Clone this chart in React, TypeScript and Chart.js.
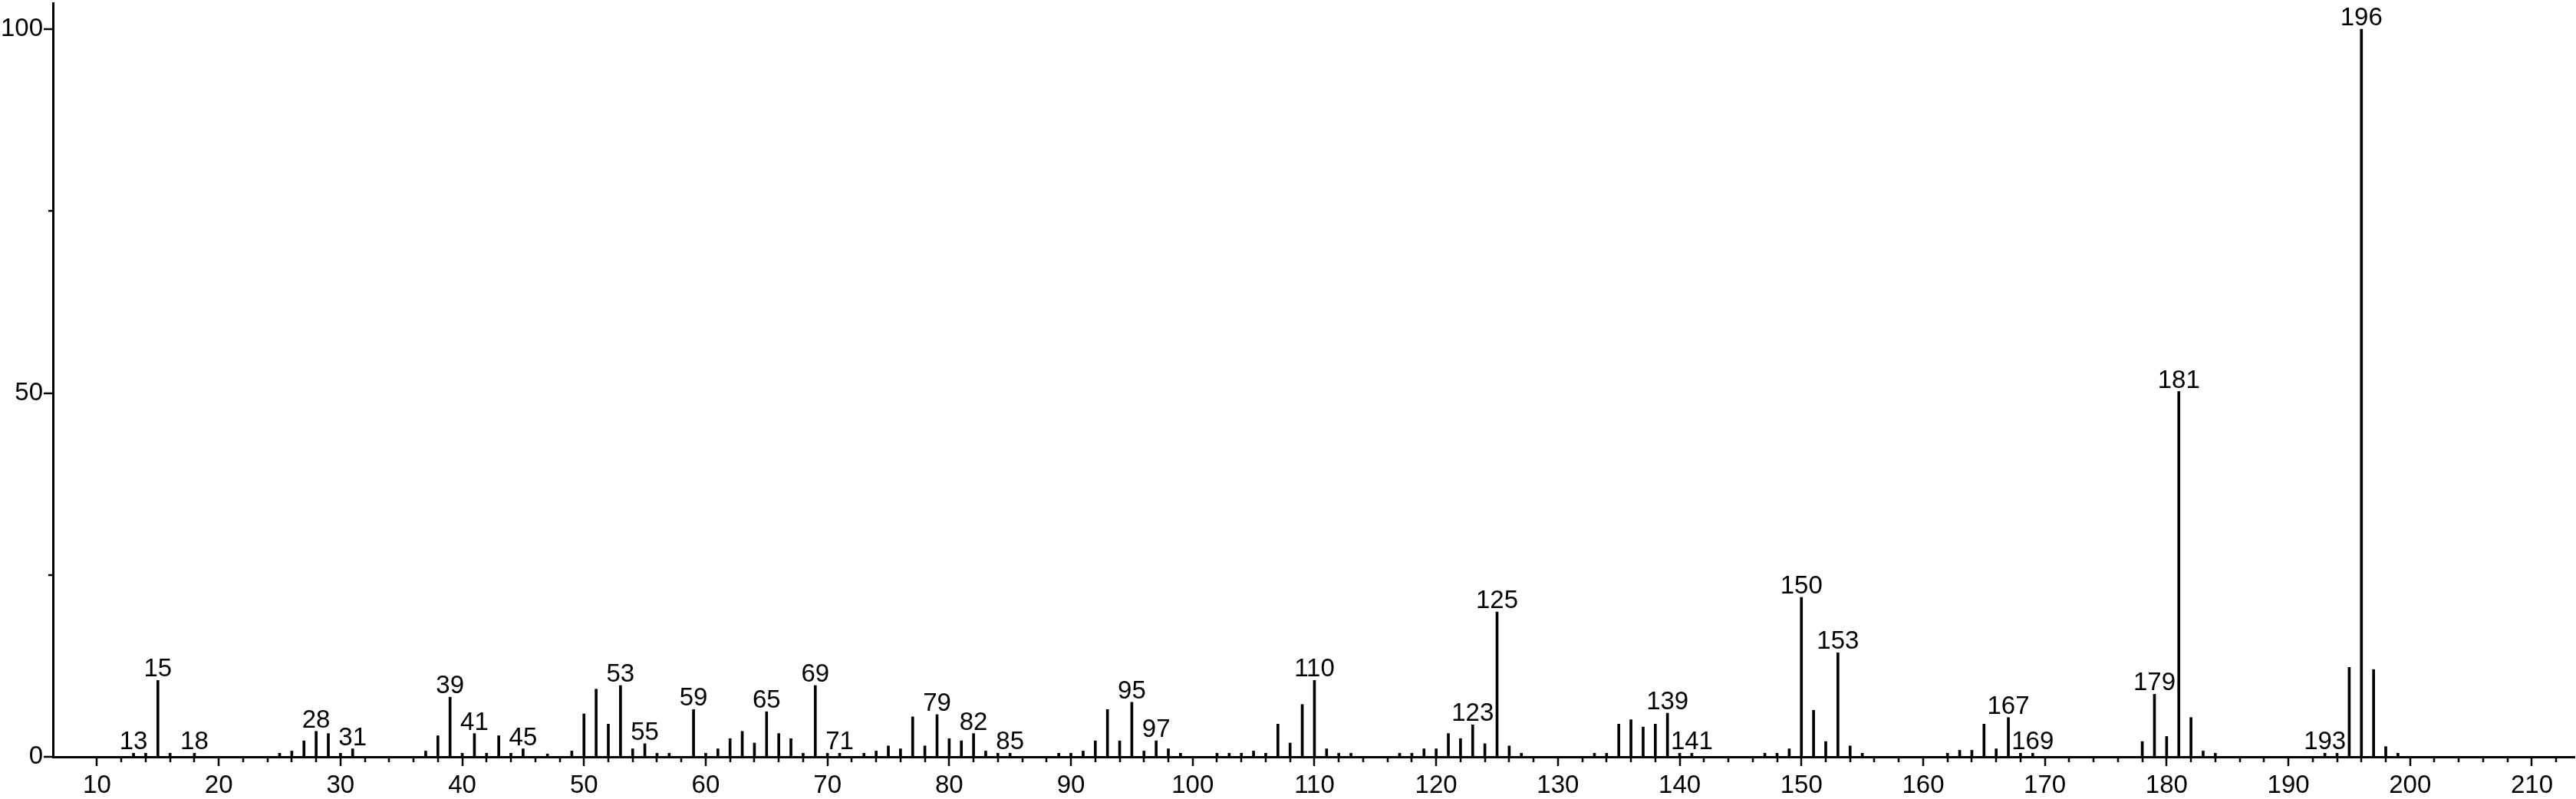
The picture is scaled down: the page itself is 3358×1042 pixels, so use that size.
import React, { useEffect, useRef } from "react";
import { Chart, registerables } from "chart.js";

Chart.register(...registerables);

// m/z values of the peaks
const MZ = [
  13, 14, 15, 16, 18, 25, 26, 27, 28, 29, 30, 31, 37, 38, 39, 40, 41, 42, 43, 44, 45, 47, 49,
  50, 51, 52, 53, 54, 55, 56, 57, 59, 60, 61, 62, 63, 64, 65, 66, 67, 68, 69, 70, 71, 73, 74,
  75, 76, 77, 78, 79, 80, 81, 82, 83, 84, 85, 89, 90, 91, 92, 93, 94, 95, 96, 97, 98, 99, 102,
  103, 104, 105, 106, 107, 108, 109, 110, 111, 112, 113, 117, 118, 119, 120, 121, 122, 123, 124,
  125, 126, 127, 133, 134, 135, 136, 137, 138, 139, 140, 141, 147, 148, 149, 150, 151, 152, 153,
  154, 155, 162, 163, 164, 165, 166, 167, 168, 169, 178, 179, 180, 181, 182, 183, 184, 193, 194,
  195, 196, 197, 198, 199,
];

// relative intensities (%)
const INTENSITY = [
  0.5, 0.5, 10.5, 0.5, 0.5, 0.5, 0.8, 2.2, 3.5, 3.2, 0.5, 1.1, 0.8, 2.9, 8.2, 0.5, 3.2, 0.5, 2.9, 0.5, 1.1, 0.4, 0.8,
  5.9, 9.3, 4.5, 9.8, 1.1, 1.8, 0.5, 0.5, 6.5, 0.5, 1.1, 2.5, 3.5, 1.9, 6.2, 3.2, 2.5, 0.5, 9.8, 0.5, 0.5, 0.5, 0.8,
  1.5, 1.1, 5.5, 1.5, 5.8, 2.5, 2.2, 3.2, 0.8, 0.5, 0.5, 0.5, 0.5, 0.8, 2.2, 6.5, 2.2, 7.5, 0.8, 2.2, 1.1, 0.5, 0.5,
  0.5, 0.5, 0.8, 0.5, 4.5, 1.9, 7.2, 10.5, 1.1, 0.5, 0.5, 0.5, 0.5, 1.1, 1.1, 3.2, 2.5, 4.4, 1.8,
  19.9, 1.5, 0.5, 0.5, 0.5, 4.5, 5.1, 4.1, 4.5, 6.0, 0.5, 0.5, 0.5, 0.5, 1.1, 21.9, 6.4, 2.1, 14.3,
  1.5, 0.5, 0.5, 0.9, 0.9, 4.5, 1.1, 5.4, 0.5, 0.5, 2.1, 8.6, 2.8, 50.2, 5.4, 0.8, 0.5, 0.5, 0.5,
  12.3, 100, 12.0, 1.4, 0.5,
];

// peaks that carry an m/z annotation
const LABELED_MZ = [
  13, 15, 18, 28, 31, 39, 41, 45, 53, 55, 59, 65, 69, 71, 79, 82, 85, 95, 97, 110, 123, 125,
  139, 141, 150, 153, 167, 169, 179, 181, 193, 196,
];

const X_TICK_LABELS = [10, 20, 30, 40, 50, 60, 70, 80, 90, 100, 110, 120, 130, 140, 150, 160, 170, 180, 190, 200, 210];
const Y_TICK_LABELS = [0, 50, 100];

const FONT_FAMILY = '"Liberation Sans", Arial, Helvetica, sans-serif';
const FONT_SIZE = 33;

const tickPlugin = {
  id: "msTicks",
  afterDraw(chart: any) {
    const { ctx, chartArea } = chart;
    const xs = chart.scales.x;
    const ys = chart.scales.y;
    ctx.save();
    ctx.strokeStyle = "#000";
    ctx.lineWidth = 2.5;
    const y0 = chartArea.bottom;
    for (let v = 10; v <= xs.max; v += 2) {
      const px = Math.round(xs.getPixelForValue(v));
      const len = v % 10 === 0 ? 12 : 7;
      ctx.beginPath();
      ctx.moveTo(px, y0);
      ctx.lineTo(px, y0 + len);
      ctx.stroke();
    }
    const x0 = chartArea.left;
    for (let v = 0; v <= 100; v += 25) {
      const py = Math.round(ys.getPixelForValue(v));
      const len = v % 50 === 0 ? 12 : 6;
      ctx.beginPath();
      ctx.moveTo(x0, py);
      ctx.lineTo(x0 - len, py);
      ctx.stroke();
    }
    ctx.restore();
  },
};

const labelPlugin = {
  id: "peakLabels",
  afterDatasetsDraw(chart: any) {
    const { ctx } = chart;
    const xs = chart.scales.x;
    const ys = chart.scales.y;
    ctx.save();
    ctx.fillStyle = "#000";
    ctx.font = `${FONT_SIZE}px ${FONT_FAMILY}`;
    ctx.textAlign = "center";
    ctx.textBaseline = "alphabetic";
    LABELED_MZ.forEach((m) => {
      const i = MZ.indexOf(m);
      if (i < 0) return;
      const px = xs.getPixelForValue(m);
      const py = ys.getPixelForValue(INTENSITY[i]);
      ctx.fillText(String(m), px, py - 5);
    });
    ctx.restore();
  },
};

export default function App() {
  const canvasRef = useRef<HTMLCanvasElement | null>(null);

  useEffect(() => {
    document.body.style.margin = "0";
    const canvas = canvasRef.current;
    if (!canvas) return;
    const chart = new Chart(canvas, {
      type: "bar",
      data: {
        datasets: [
          {
            data: MZ.map((m, i) => ({ x: m, y: INTENSITY[i] })),
            backgroundColor: "#000",
            borderWidth: 0,
            barThickness: 3,
          } as any,
        ],
      },
      options: {
        animation: false,
        responsive: false,
        devicePixelRatio: 1,
        layout: { padding: { top: 4, right: 2, left: 0, bottom: 0 } },
        plugins: { legend: { display: false }, tooltip: { enabled: false } },
        scales: {
          x: {
            type: "linear",
            min: 6.38,
            max: 213.5,
            offset: false,
            grid: { display: true, drawOnChartArea: false, drawTicks: false, offset: false },
            border: { display: true, color: "#000", width: 3 },
            ticks: {
              stepSize: 10,
              includeBounds: false,
              autoSkip: false,
              maxRotation: 0,
              padding: 18,
              color: "#000",
              font: { family: FONT_FAMILY, size: FONT_SIZE },
              callback: (v: any) => (X_TICK_LABELS.includes(Number(v)) ? String(v) : ""),
            },
            afterFit: (s: any) => {
              s.height = 55;
              s.paddingLeft = 0;
              s.paddingRight = 0;
              s.paddingTop = 0;
              s.paddingBottom = 0;
            },
          },
          y: {
            type: "linear",
            min: 0,
            max: 103.6,
            grid: { display: true, drawOnChartArea: false, drawTicks: false },
            border: { display: true, color: "#000", width: 3 },
            ticks: {
              stepSize: 50,
              includeBounds: false,
              autoSkip: false,
              padding: 13,
              color: "#000",
              font: { family: FONT_FAMILY, size: FONT_SIZE },
              callback: (v: any) => (Y_TICK_LABELS.includes(Number(v)) ? String(v) : ""),
            },
            afterFit: (s: any) => {
              s.width = 69;
              s.paddingTop = 0;
              s.paddingBottom = 0;
              s.paddingLeft = 0;
              s.paddingRight = 0;
            },
          },
        },
      } as any,
      plugins: [tickPlugin, labelPlugin],
    });
    return () => chart.destroy();
  }, []);

  return (
    <div style={{ width: 3358, height: 1042, background: "#fff" }}>
      <canvas ref={canvasRef} width={3358} height={1042} style={{ display: "block" }} />
    </div>
  );
}
